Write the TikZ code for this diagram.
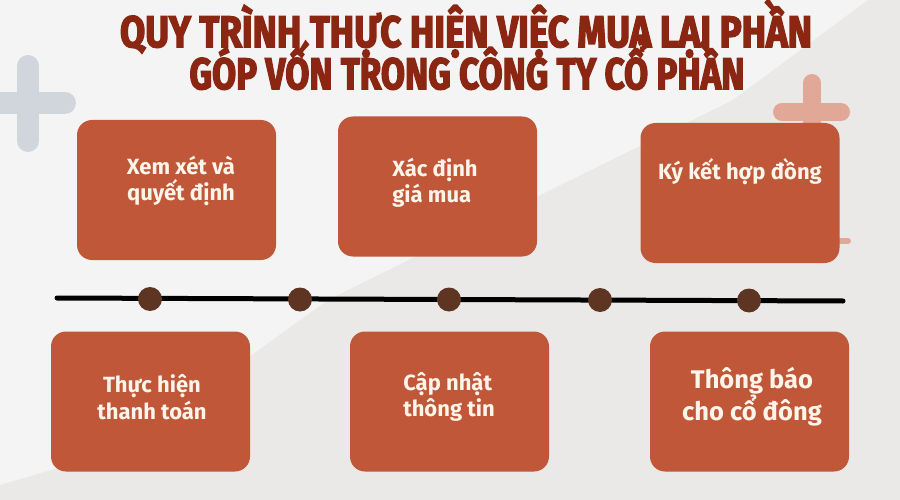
\documentclass[tikz,border=0pt]{standalone}
\usepackage{fontspec}
\setmainfont{Fira Sans}
\newfontfamily\titlefont[BoldFeatures={FakeBold=3.5}]{Fira Sans}
\definecolor{bglight}{HTML}{F4F4F4}
\definecolor{bgdark}{HTML}{EBE9E7}
\definecolor{boxfill}{HTML}{BF5738}
\definecolor{boxtext}{HTML}{FDF4EA}
\definecolor{titlecol}{HTML}{8A2612}
\definecolor{dotcol}{HTML}{5E3523}
\definecolor{plusgray}{HTML}{D1D6DD}
\definecolor{plussalmon}{HTML}{E2A897}
\tikzset{
  stepbox/.style={draw=none, fill=boxfill, rounded corners=15pt, minimum width=199pt, minimum height=140pt, inner sep=0pt},
  steptext/.style={text=boxtext, font=\bfseries\fontsize{22}{26.5}\selectfont, align=center, inner sep=0pt},
  dotnode/.style={circle, fill=dotcol, minimum size=24pt, inner sep=0pt},
  titletext/.style={text=titlecol, inner sep=0pt, anchor=base},
  plusbar/.style={line cap=round}
}
\begin{document}
\begin{tikzpicture}[x=1pt,y=-1pt]
\useasboundingbox (0,0) rectangle (900,500);
\fill[bglight] (0,0) rectangle (900,500);
\fill[bgdark] (868,0) -- (900,0) -- (900,500) -- (0,500) -- (0,485) -- (120,450) -- (328,300) -- (733,100) -- cycle;
% decorative pluses
\draw[plusbar, plusgray, line width=22pt] (28,66) -- (28,141) (-20,103) -- (65,103);
\draw[plusbar, plussalmon, line width=18pt] (812,83) -- (812,150) (782,112) -- (841,112);
\draw[plusbar, plussalmon, line width=6pt] (800,241) -- (848,241);
% title
\node[titletext] (title1) at (466,47) {\resizebox{692pt}{\height}{\titlefont\bfseries\fontsize{44}{50}\selectfont QUY TRÌNH THỰC HIỆN VIỆC MUA LẠI PHẦN}};
\node[titletext] (title2) at (467,89) {\resizebox{555pt}{\height}{\titlefont\bfseries\fontsize{44}{50}\selectfont GÓP VỐN TRONG CÔNG TY CỔ PHẦN}};
% boxes
\node[stepbox] (b1) at (176.5,190) {};
\node[stepbox] (b2) at (437.5,186.5) {};
\node[stepbox] (b3) at (740,193) {};
\node[stepbox] (b4) at (150.5,401.5) {};
\node[stepbox] (b5) at (449.5,401.5) {};
\node[stepbox] (b6) at (749.5,401.5) {};
\node[steptext] (t1) at (181,181) {Xem xét và\\quyết định};
\node[steptext, align=left] (t2) at (435,183) {Xác định\\giá mua};
\node[steptext] (t3) at (740,172) {Ký kết hợp đồng};
\node[steptext] (t4) at (152,397) {Thực hiện\\thanh toán};
\node[steptext, align=left] (t5) at (449,397) {Cập nhật\\thông tin};
\node[steptext, font=\bfseries\fontsize{25.5}{28}\selectfont] (t6) at (752,397) {Thông báo\\cho cổ đông};
% timeline
\coordinate (tl) at (57,298);
\coordinate (tr) at (843,301);
\draw[line width=5pt, line cap=round] (tl) -- (tr);
\node[dotnode] (d1) at (150,299) {};
\node[dotnode] (d2) at (300,299.5) {};
\node[dotnode] (d3) at (449,299.5) {};
\node[dotnode] (d4) at (600,300) {};
\node[dotnode] (d5) at (749,300.5) {};
\end{tikzpicture}
\end{document}
